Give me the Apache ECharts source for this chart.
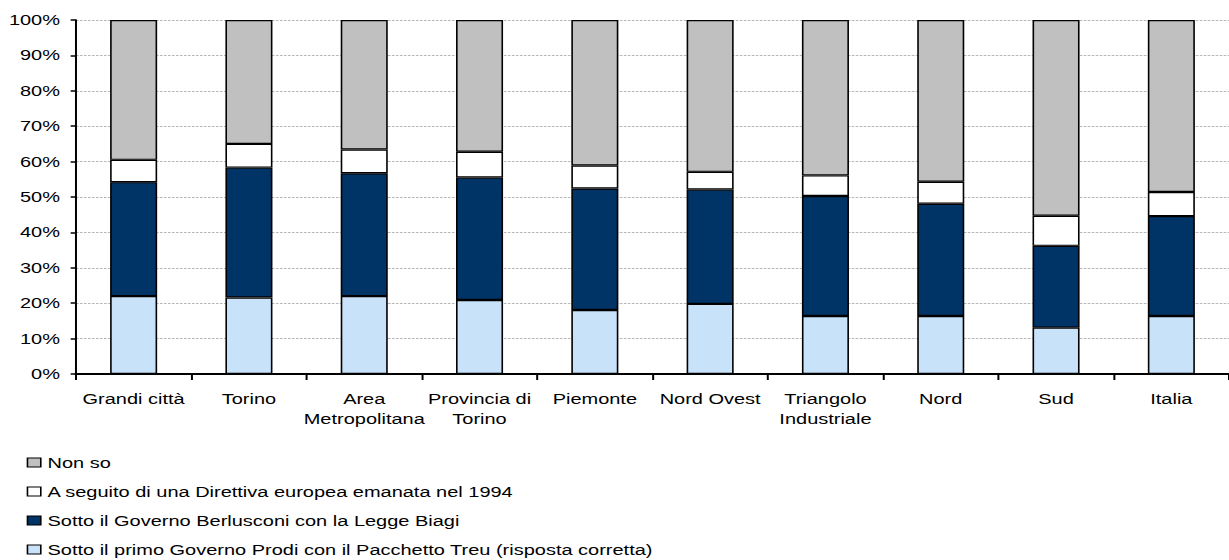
<!DOCTYPE html>
<html>
<head>
<meta charset="utf-8">
<script src="https://cdn.jsdelivr.net/npm/echarts@6/dist/echarts.min.js"></script>
<style>
  html, body { margin: 0; padding: 0; background: #fff; overflow: hidden; }
  #wrap { width: 1229px; height: 560px; overflow: hidden; }
  /* chart laid out narrow and widened horizontally */
  #chart { width: 922px; height: 560px; transform: scaleX(1.33297); transform-origin: 0 0; }
</style>
</head>
<body>
<div id="wrap"><div id="chart"></div></div>
<script>
const categories = ['Grandi città', 'Torino', 'Area\nMetropolitana', 'Provincia di\nTorino', 'Piemonte',
                    'Nord Ovest', 'Triangolo\nIndustriale', 'Nord', 'Sud', 'Italia'];
const prodi      = [22.0, 21.6, 22.0, 20.9, 18.1, 19.8, 16.4, 16.4, 13.1, 16.4];
const berlusconi = [32.2, 36.7, 34.7, 34.6, 34.3, 32.3, 33.9, 31.7, 23.1, 28.2];
const direttiva  = [6.3, 6.7, 6.7, 7.3, 6.5, 5.0, 5.8, 6.2, 8.5, 6.8];
const nonSo      = [39.5, 35.0, 36.6, 37.2, 41.1, 42.9, 43.9, 45.7, 55.3, 48.6];

const names = {
  prodi: 'Sotto il primo Governo Prodi con il Pacchetto Treu (risposta corretta)',
  berlusconi: 'Sotto il Governo Berlusconi con la Legge Biagi',
  direttiva: 'A seguito di una Direttiva europea emanata nel 1994',
  nonSo: 'Non so'
};
const yTicks = [0, 100, 10];

const font = "'Liberation Sans', Arial, sans-serif";
const chart = echarts.init(document.getElementById('chart'), null, { renderer: 'svg' });

function seg(name, data, color) {
  return {
    name, type: 'bar', stack: 'tot', data, barWidth: 35.3,
    itemStyle: { color, borderColor: '#000', borderWidth: 1.2 },
    emphasis: { disabled: true }
  };
}

chart.setOption({
  animation: false,
  textStyle: { fontFamily: font, color: '#000' },
  grid: { left: 57, top: 20, width: 870, height: 354, containLabel: false },
  legend: {
    orient: 'vertical', left: 20, top: 455, padding: 0,
    itemWidth: 10, itemHeight: 9, itemGap: 14,
    icon: 'rect',
    itemStyle: { borderColor: '#000', borderWidth: 1.2 },
    textStyle: { fontFamily: font, fontSize: 15, color: '#000', lineHeight: 15 },
    data: [names.nonSo, names.direttiva, names.berlusconi, names.prodi]
  },
  xAxis: {
    type: 'category', data: categories,
    axisLine: { lineStyle: { color: '#000', width: 2 } },
    axisTick: { show: true, length: 6, lineStyle: { color: '#000', width: 1.5 } },
    axisLabel: { fontFamily: font, fontSize: 15, color: '#000', margin: 15, lineHeight: 20, interval: 0, align: 'center' }
  },
  yAxis: {
    type: 'value', min: yTicks[0], max: yTicks[1], interval: yTicks[2],
    axisLine: { show: true, lineStyle: { color: '#000', width: 1.5 } },
    axisTick: { show: true, length: 4, lineStyle: { color: '#000', width: 1.5 } },
    axisLabel: { fontFamily: font, fontSize: 15, color: '#000', margin: 12, formatter: '{value}%' },
    splitLine: { show: true, lineStyle: { color: '#b8b8b8', width: 1, type: [2, 1] } }
  },
  series: [
    seg(names.prodi, prodi, '#c8e2fa'),
    seg(names.berlusconi, berlusconi, '#003366'),
    seg(names.direttiva, direttiva, '#ffffff'),
    seg(names.nonSo, nonSo, '#c0c0c0')
  ]
});
</script>
</body>
</html>
